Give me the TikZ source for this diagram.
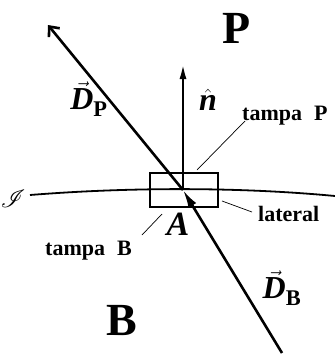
\documentclass[tikz,border=0pt]{standalone}
\usepackage{amsmath}
\usepackage{mathrsfs}
\usepackage{fontspec}
\setmainfont{Liberation Serif}
\usetikzlibrary{arrows.meta}
\tikzset{
  vecline/.style={line width=2.6pt},
  thinlead/.style={line width=0.7pt},
  lbl/.style={inner sep=0pt, font=\bfseries\fontsize{22}{24}\selectfont},
  region/.style={inner sep=0pt, font=\bfseries\fontsize{46}{50}\selectfont},
  sym/.style={inner sep=0pt, font=\bfseries\fontsize{32}{34}\selectfont},
}
\begin{document}
\begin{tikzpicture}[x=1pt,y=-1pt]
\useasboundingbox (0,0) rectangle (335,354);
% key points
\coordinate (O) at (183,190);
\coordinate (Pend) at (48,25);
\coordinate (Nend) at (183,63);
\coordinate (Bstart) at (282,353);
\coordinate (S1) at (30,195);
\coordinate (S2) at (335,196);
% surface
\draw[line width=1.8pt] (S1) .. controls (130,187) and (240,187) .. (S2);
% box
\draw[line width=2.6pt] (150,173) rectangle (218,207);
% vectors
\draw[vecline, -{Straight Barb[length=8pt,width=14pt]}] (O) -- (Pend);
\draw[vecline, -{Latex[length=16pt,width=7pt]}] (O) -- (Nend);
\draw[vecline, -{Latex[length=18pt,width=9pt]}] (Bstart) -- (O);
% labels
\node[region] (lP) at (237,28) {P};
\node[region] (lB) at (122,321) {B};
\node[sym] (ln) at (208,100) {$\hat{\text{\bfseries\itshape n}}$};
\node[sym] (lDP) at (89,99) {$\vec{\text{\bfseries\itshape D}}_{\text{\bfseries P}}$};
\node[sym] (lDB) at (282,288) {$\vec{\text{\bfseries\itshape D}}_{\text{\bfseries B}}$};
\node[inner sep=0pt, font=\bfseries\itshape\fontsize{34}{36}\selectfont] (lA) at (178,224) {A};
\node[inner sep=0pt, font=\fontsize{26}{28}\selectfont] (lI) at (13,199) {$\mathscr{I}$};
\node[lbl, anchor=base west] (tP) at (242,120) {tampa\hspace{12pt}P};
\node[lbl, anchor=base west] (tB) at (45,255) {tampa\hspace{12pt}B};
\node[lbl, anchor=base west] (lat) at (258,221) {lateral};
% leaders
\coordinate (a1) at (197,170); \coordinate (a2) at (245,121);
\coordinate (b1) at (222,201); \coordinate (b2) at (252,212);
\coordinate (c1) at (162,214); \coordinate (c2) at (142,235);
\draw[thinlead] (a1) -- (a2);
\draw[thinlead] (b1) -- (b2);
\draw[thinlead] (c1) -- (c2);
\end{tikzpicture}
\end{document}
